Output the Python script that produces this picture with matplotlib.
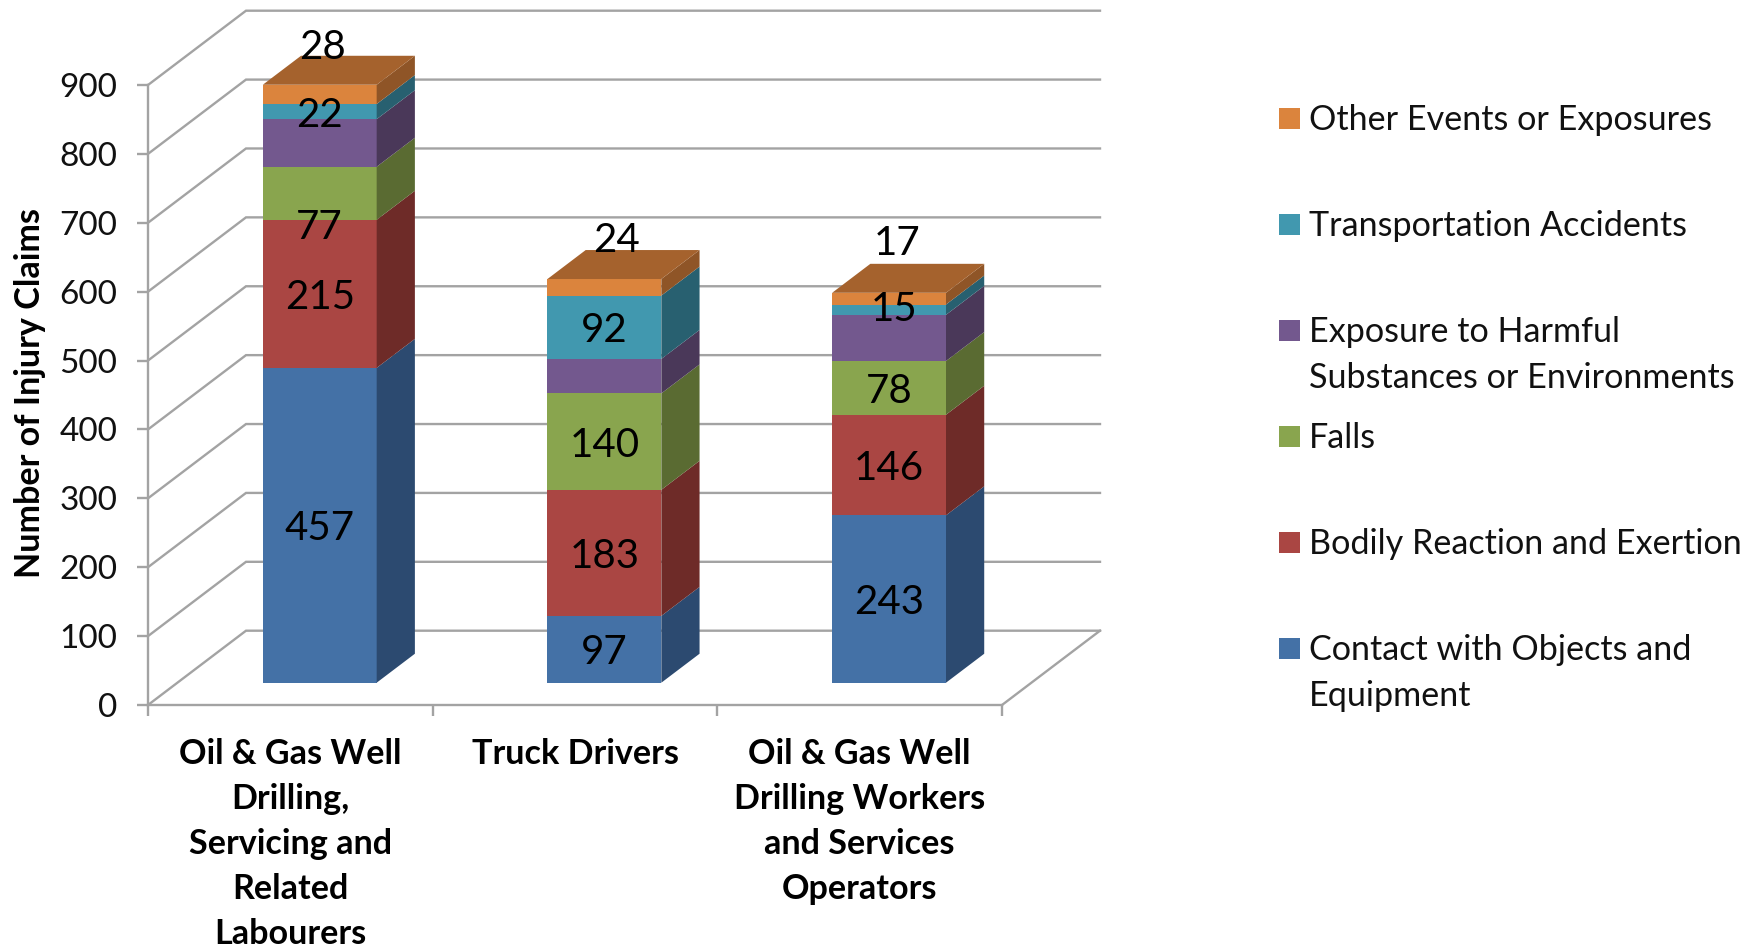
import matplotlib
matplotlib.use('Agg')
import matplotlib.pyplot as plt
from matplotlib.patches import Polygon, Rectangle
import numpy as np

plt.rcParams['font.family'] = ['Lato', 'DejaVu Sans']

categories = ['Oil & Gas Well\nDrilling,\nServicing and\nRelated\nLabourers',
              'Truck Drivers',
              'Oil & Gas Well\nDrilling Workers\nand Services\nOperators']
series_names = ['Contact with Objects and\nEquipment',
                'Bodily Reaction and Exertion',
                'Falls',
                'Exposure to Harmful\nSubstances or Environments',
                'Transportation Accidents',
                'Other Events or Exposures']
contact = [457, 97, 243]
bodily = [215, 183, 146]
falls = [77, 140, 78]
exposure = [69, 50, 67]
transport = [22, 92, 15]
other = [28, 24, 17]
series = [contact, bodily, falls, exposure, transport, other]
y_ticks = [0, 100, 200, 300, 400, 500, 600, 700, 800, 900]

front_colors = ['#4471A6', '#AA4643', '#89A54E', '#73588E', '#4198AF', '#DB843D']
side_colors = ['#2C4A70', '#6E2B28', '#5A6B32', '#4A3859', '#286070', '#8F5527']
top_color = '#A5622D'
grid_color = '#A3A3A3'

# purple has no labels in the original
no_label = [3]
# labels that were dragged away from their segment, (series, bar): pixels
nudges = {(5, 0): (3, 50), (5, 1): (12, 50), (5, 2): (8, 59), (4, 2): (5, 4), (2, 0): (0, -31)}

W, H = 1760, 950
fig = plt.figure(figsize=(W / 100, H / 100), dpi=100)
ax = fig.add_axes([148 / W, (H - 705) / H, 854 / W, 620 / H])
ax.set_xlim(0, 3)
ax.set_ylim(0, 900)

# wall depth in data units
depth_x = 98 / (854 / 3)
depth_y = 74.3 / (620 / 900)
bar_width = 0.40
bar_front = 0.30
bar_depth = 0.39

# walls and floor
for t in y_ticks:
    ax.plot([0, depth_x, 3 + depth_x], [t, t + depth_y, t + depth_y],
            color=grid_color, lw=1.7, clip_on=False, zorder=1, solid_joinstyle='miter')
ax.plot([3, 3 + depth_x], [0, depth_y], color=grid_color, lw=1.7, clip_on=False, zorder=1)

centers = np.arange(3) + 0.5 + bar_front * depth_x
floor = bar_front * depth_y
bar_dx = bar_depth * depth_x
bar_dy = bar_depth * depth_y

bottoms = np.full(3, floor, dtype=float)
for s, values in enumerate(series):
    values = np.array(values, dtype=float)
    ax.bar(centers, values, bar_width, bottom=bottoms, color=front_colors[s], zorder=3, clip_on=False)
    for i in range(3):
        right = centers[i] + bar_width / 2
        lo, hi = bottoms[i], bottoms[i] + values[i]
        ax.add_patch(Polygon([(right, lo), (right + bar_dx, lo + bar_dy),
                              (right + bar_dx, hi + bar_dy), (right, hi)],
                             facecolor=side_colors[s], edgecolor='none', zorder=3, clip_on=False))
        if s not in no_label:
            nudge = nudges.get((s, i), (0, 0))
            ax.annotate(str(int(values[i])), (centers[i], (lo + hi) / 2), xytext=nudge,
                        textcoords='offset pixels', ha='center', va='center_baseline',
                        fontsize=29, color='black', zorder=5, annotation_clip=False)
    bottoms += values

# top faces
for i in range(3):
    left = centers[i] - bar_width / 2
    right = centers[i] + bar_width / 2
    ax.add_patch(Polygon([(left, bottoms[i]), (right, bottoms[i]),
                          (right + bar_dx, bottoms[i] + bar_dy), (left + bar_dx, bottoms[i] + bar_dy)],
                         facecolor=top_color, edgecolor='none', zorder=4, clip_on=False))

for side in ['top', 'right']:
    ax.spines[side].set_visible(False)
for side in ['left', 'bottom']:
    ax.spines[side].set_color(grid_color)
    ax.spines[side].set_linewidth(1.7)
    ax.spines[side].set_zorder(2)

ax.set_yticks(y_ticks)
ax.set_xticks([0, 1, 2, 3])
ax.set_xticklabels([])
ax.tick_params(axis='both', length=8, width=1.7, color=grid_color)
ax.tick_params(axis='y', labelsize=24, pad=14, labelcolor='#111111')

ax.set_xticks([0.5, 1.5, 2.5], minor=True)
ax.set_xticklabels(categories, minor=True, fontsize=24.6, fontweight='bold', linespacing=1.5)
ax.tick_params(axis='x', which='minor', length=0, pad=24)

fig.text(30 / W, 1 - 393 / H, 'Number of Injury Claims', rotation=90, ha='center', va='center',
         fontsize=24.6, fontweight='bold')

# legend, top entry first
for k, s in enumerate(range(5, -1, -1)):
    yc = 118 + 106 * k
    fig.add_artist(Rectangle((1279 / W, 1 - (yc + 10.5) / H), 21 / W, 21 / H,
                             transform=fig.transFigure, facecolor=front_colors[s], edgecolor='none'))
    fig.text(1309 / W, 1 - (yc - 14) / H, series_names[s], ha='left', va='top', fontsize=24.6,
             color='#111111', linespacing=1.54)

fig.savefig('out.png', dpi=100)
